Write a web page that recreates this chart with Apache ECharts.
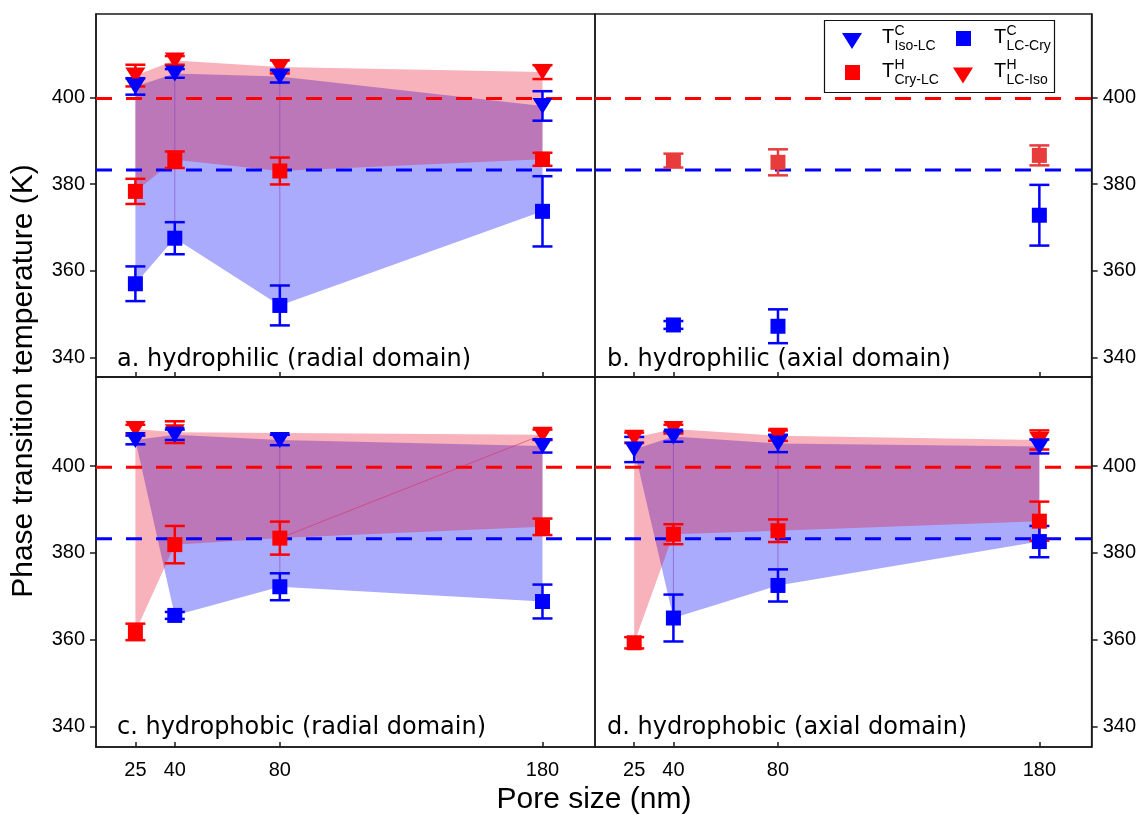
<!DOCTYPE html>
<html><head><meta charset="utf-8">
<script src="https://cdn.jsdelivr.net/npm/echarts@6/dist/echarts.min.js"></script>
<style>html,body{margin:0;padding:0;background:#fff}#c{width:1139px;height:815px}</style>
</head><body><div id="c"></div>
<script>
// ---------- data ----------
const poreSizes = [25, 40, 80, 180];
const xTickValues = [25, 40, 80, 180];
const yTickValues = [340, 360, 380, 400];
const bulkLCIso = 399.7;   // red dashed
const bulkIsoLCc = 383.25; // blue dashed

// a. hydrophilic (radial domain)
const a_isoLC = [402.5, 405.5, 404.8, 398.0];
const a_isoLCErr = [1.9, 1.0, 1.4, 3.4];
const a_lcCry = [357.0, 367.5, 352.0, 373.7];
const a_lcCryErr = [4.0, 3.7, 4.6, 8.1];
const a_cryLC = [378.3, 385.6, 383.0, 385.7];
const a_cryLCErr = [2.9, 1.9, 3.1, 1.5];
const a_lcIso = [405.0, 408.5, 407.0, 405.8];
const a_lcIsoErr = [2.5, 1.0, 1.5, 1.6];

// b. hydrophilic (axial domain)
const b_isoLC = [null, null, null, null];
const b_isoLCErr = [null, null, null, null];
const b_lcCry = [null, 347.5, 347.2, 372.8];
const b_lcCryErr = [null, 0.9, 3.9, 7.0];
const b_cryLC = [null, 385.4, 385.0, 386.6];
const b_cryLCErr = [null, 1.6, 3.0, 2.3];
const b_lcIso = [null, null, null, null];
const b_lcIsoErr = [null, null, null, null];

// c. hydrophobic (radial domain)
const c_isoLC = [406.0, 407.2, 406.0, 404.6];
const c_isoLCErr = [1.0, 1.2, 1.2, 1.5];
const c_lcCry = [null, 365.6, 372.2, 368.8];
const c_lcCryErr = [null, 0.8, 3.1, 3.9];
const c_cryLC = [361.8, 381.9, 383.4, 386.0];
const c_cryLCErr = [1.9, 4.3, 3.8, 1.9];
const c_lcIso = [408.5, 407.8, null, 407.2];
const c_lcIsoErr = [1.0, 2.5, null, 1.2];

// d. hydrophobic (axial domain)
const d_isoLC = [403.8, 406.8, 405.2, 404.5];
const d_isoLCErr = [2.9, 1.2, 2.0, 1.6];
const d_lcCry = [null, 365.0, 372.5, 382.6];
const d_lcCryErr = [null, 5.4, 3.7, 3.6];
const d_cryLC = [359.3, 384.3, 385.1, 387.3];
const d_cryLCErr = [1.3, 2.3, 2.6, 4.5];
const d_lcIso = [406.5, 408.5, 407.0, 406.0];
const d_lcIsoErr = [1.2, 1.0, 1.2, 2.2];

const panelLabels = ['a. hydrophilic (radial domain)', 'b. hydrophilic (axial domain)',
                     'c. hydrophobic (radial domain)', 'd. hydrophobic (axial domain)'];

// ---------- build ----------
const BLUE = '#0000ff', RED = '#ff0000';
const panels = [
  {isoLC:a_isoLC, isoLCErr:a_isoLCErr, lcCry:a_lcCry, lcCryErr:a_lcCryErr, cryLC:a_cryLC, cryLCErr:a_cryLCErr, lcIso:a_lcIso, lcIsoErr:a_lcIsoErr, seams:[1,2], redSeam:false, red:RED},
  {isoLC:b_isoLC, isoLCErr:b_isoLCErr, lcCry:b_lcCry, lcCryErr:b_lcCryErr, cryLC:b_cryLC, cryLCErr:b_cryLCErr, lcIso:b_lcIso, lcIsoErr:b_lcIsoErr, seams:[], redSeam:false, red:'#e83c3c'},
  {isoLC:c_isoLC, isoLCErr:c_isoLCErr, lcCry:c_lcCry, lcCryErr:c_lcCryErr, cryLC:c_cryLC, cryLCErr:c_cryLCErr, lcIso:c_lcIso, lcIsoErr:c_lcIsoErr, seams:[2], redSeam:true, red:RED},
  {isoLC:d_isoLC, isoLCErr:d_isoLCErr, lcCry:d_lcCry, lcCryErr:d_lcCryErr, cryLC:d_cryLC, cryLCErr:d_cryLCErr, lcIso:d_lcIso, lcIsoErr:d_lcIsoErr, seams:[1,2], redSeam:false, red:RED}
];

function pts(ys) { return poreSizes.map((x, i) => ys[i] == null ? null : [x, ys[i]]).filter(Boolean); }
function errPts(ys, es) { return poreSizes.map((x, i) => ys[i] == null ? null : [x, ys[i], es[i]]).filter(Boolean); }

function polySeries(i, points, fill) {
  return {
    type: 'custom', xAxisIndex: i, yAxisIndex: i, silent: true, z: 1,
    data: points,
    renderItem: (params, api) => {
      if (params.dataIndex !== 0) return null;
      return { type: 'polygon', shape: { points: points.map(p => api.coord(p)) }, style: { fill: fill } };
    }
  };
}
function segSeries(i, segs, color) {
  return {
    type: 'custom', xAxisIndex: i, yAxisIndex: i, silent: true, z: 1,
    data: segs.map(s => [s[0], s[1], s[2], s[3]]),
    renderItem: (params, api) => {
      const p1 = api.coord([api.value(0), api.value(1)]);
      const p2 = api.coord([api.value(2), api.value(3)]);
      return { type: 'line', shape: { x1: p1[0], y1: p1[1], x2: p2[0], y2: p2[1] }, style: { stroke: color, lineWidth: 1 } };
    }
  };
}
function hlineSeries(i, value, color) {
  return {
    type: 'custom', xAxisIndex: i, yAxisIndex: i, silent: true, z: 2,
    data: [[value]],
    renderItem: (params, api) => {
      const v = api.value(0);
      const p1 = api.coord([10, v]);
      const p2 = api.coord([200, v]);
      return { type: 'line', shape: { x1: p1[0], y1: p1[1], x2: p2[0], y2: p2[1] },
               style: { stroke: color, lineWidth: 3, lineDash: [16, 14] } };
    }
  };
}
function errSeries(i, data, color) {
  return {
    type: 'custom', xAxisIndex: i, yAxisIndex: i, silent: true, z: 3,
    data: data,
    renderItem: (params, api) => {
      const x = api.value(0), y = api.value(1), e = api.value(2);
      const t = api.coord([x, y + e]), b = api.coord([x, y - e]);
      const st = { stroke: color, lineWidth: 2.5 };
      const h = 10;
      return { type: 'group', children: [
        { type: 'line', shape: { x1: t[0], y1: t[1], x2: b[0], y2: b[1] }, style: st },
        { type: 'line', shape: { x1: t[0] - h, y1: t[1], x2: t[0] + h, y2: t[1] }, style: st },
        { type: 'line', shape: { x1: b[0] - h, y1: b[1], x2: b[0] + h, y2: b[1] }, style: st }
      ]};
    }
  };
}
function markerSeries(i, data, color, shape) {
  const tri = shape === 'tri';
  return {
    type: 'scatter', xAxisIndex: i, yAxisIndex: i, silent: true, z: 3,
    data: data,
    symbol: tri ? 'triangle' : 'rect',
    symbolRotate: tri ? 180 : 0,
    symbolSize: tri ? [20, 16] : [15, 15],
    itemStyle: { color: color, opacity: 1 }
  };
}

const series = [];
panels.forEach((p, i) => {
  const hasTri = pts(p.isoLC).length > 0;
  if (hasTri) {
    series.push(polySeries(i, pts(p.isoLC).concat(pts(p.lcCry).reverse()), 'rgba(0,0,250,0.33)'));
    series.push(polySeries(i, pts(p.lcIso).concat(pts(p.cryLC).reverse()), 'rgba(230,0,30,0.30)'));
  }
  const segs = p.seams.map(k => [poreSizes[k], p.isoLC[k], poreSizes[k], p.lcCry[k]]);
  if (segs.length) series.push(segSeries(i, segs, 'rgba(130,60,190,0.55)'));
  if (p.redSeam) series.push(segSeries(i, [[poreSizes[2], p.cryLC[2], poreSizes[3], p.lcIso[3]]], 'rgba(220,40,90,0.55)'));
  series.push(hlineSeries(i, bulkLCIso, '#ff0000'));
  series.push(hlineSeries(i, bulkIsoLCc, '#0000ff'));
  // red (heating)
  series.push(errSeries(i, errPts(p.cryLC, p.cryLCErr), p.red));
  series.push(errSeries(i, errPts(p.lcIso, p.lcIsoErr), p.red));
  series.push(markerSeries(i, pts(p.cryLC), p.red, 'sq'));
  series.push(markerSeries(i, pts(p.lcIso), p.red, 'tri'));
  // blue (cooling)
  series.push(errSeries(i, errPts(p.isoLC, p.isoLCErr), BLUE));
  series.push(errSeries(i, errPts(p.lcCry, p.lcCryErr), BLUE));
  series.push(markerSeries(i, pts(p.isoLC), BLUE, 'tri'));
  series.push(markerSeries(i, pts(p.lcCry), BLUE, 'sq'));
});

const FONT = '"Liberation Sans", Arial, sans-serif';
const grids = [
  { left: 96, top: 14, width: 499, height: 363 },
  { left: 595, top: 14, width: 497, height: 363 },
  { left: 96, top: 377, width: 499, height: 370 },
  { left: 595, top: 377, width: 497, height: 370 }
].map(g => Object.assign(g, { show: true, borderColor: '#1a1a1a', borderWidth: 1.5, backgroundColor: 'transparent' }));

const xAxes = [0, 1, 2, 3].map(i => ({
  type: 'value', gridIndex: i, min: 10, max: 200,
  splitLine: { show: false },
  axisLine: { show: true, lineStyle: { color: '#1a1a1a', width: 1.5 } },
  axisTick: { show: true, inside: true, length: 5, customValues: xTickValues, lineStyle: { color: '#1a1a1a', width: 1.5 } },
  axisLabel: { show: i >= 2, customValues: xTickValues, margin: 13, fontSize: 20, fontFamily: FONT, color: '#000' }
}));
const yRanges = [[335.5, 419.2], [335.5, 419.2], [335.3, 420.5], [335.3, 420.5]];
const yAxes = [0, 1, 2, 3].map(i => ({
  type: 'value', gridIndex: i, min: yRanges[i][0], max: yRanges[i][1],
  position: i % 2 === 0 ? 'left' : 'right',
  splitLine: { show: false },
  axisLine: { show: true, lineStyle: { color: '#1a1a1a', width: 1.5 } },
  axisTick: { show: true, inside: false, length: 6, customValues: yTickValues, lineStyle: { color: '#1a1a1a', width: 1.5 } },
  axisLabel: { show: true, customValues: yTickValues, margin: 11, fontSize: 20, fontFamily: FONT, color: '#000' }
}));

const labelPos = [[117, 360], [607, 360], [117, 728], [607, 728]];
const graphic = [];
panelLabels.forEach((t, i) => graphic.push({
  type: 'text', x: labelPos[i][0], y: labelPos[i][1], silent: true,
  style: { text: t, font: '24px "DejaVu Sans", Verdana, sans-serif', fill: '#000', textVerticalAlign: 'middle' }
}));
graphic.push({ type: 'text', x: 594, y: 800, silent: true,
  style: { text: 'Pore size (nm)', font: '30px ' + FONT, fill: '#000', textAlign: 'center', textVerticalAlign: 'middle' } });
graphic.push({ type: 'text', x: 24, y: 381, rotation: Math.PI / 2, silent: true,
  style: { text: 'Phase transition temperature (K)', font: '30px ' + FONT, fill: '#000', textAlign: 'center', textVerticalAlign: 'middle' } });

// legend
graphic.push({ type: 'rect', shape: { x: 824.5, y: 20.5, width: 230, height: 72 }, style: { fill: '#fff', stroke: '#111', lineWidth: 1.2 }, z: 100 });
graphic.push({ type: 'polygon', shape: { points: [[842, 33], [862, 33], [852, 49]] }, style: { fill: BLUE }, z: 101 });
graphic.push({ type: 'rect', shape: { x: 956, y: 31, width: 15, height: 15 }, style: { fill: BLUE }, z: 101 });
graphic.push({ type: 'rect', shape: { x: 845, y: 65, width: 15, height: 15 }, style: { fill: RED }, z: 101 });
graphic.push({ type: 'polygon', shape: { points: [[953, 67.5], [973, 67.5], [963, 83.5]] }, style: { fill: RED }, z: 101 });
const legendTexts = [
  { x: 882, y: 37.5, sup: 'C', sub: 'Iso-LC' },
  { x: 994, y: 37.5, sup: 'C', sub: 'LC-Cry' },
  { x: 882, y: 71.5, sup: 'H', sub: 'Cry-LC' },
  { x: 994, y: 71.5, sup: 'H', sub: 'LC-Iso' }
];
legendTexts.forEach(l => {
  graphic.push({ type: 'text', x: l.x, y: l.y, z: 102, style: { text: 'T', font: '20px ' + FONT, fill: '#000', textVerticalAlign: 'middle' } });
  graphic.push({ type: 'text', x: l.x + 12.5, y: l.y - 6, z: 102, style: { text: l.sup, font: '14px ' + FONT, fill: '#000', textVerticalAlign: 'middle' } });
  graphic.push({ type: 'text', x: l.x + 12.5, y: l.y + 8.5, z: 102, style: { text: l.sub, font: '14px ' + FONT, fill: '#000', textVerticalAlign: 'middle' } });
});

const chart = echarts.init(document.getElementById('c'), null, { renderer: 'canvas' });
chart.setOption({
  animation: false,
  backgroundColor: '#fff',
  grid: grids, xAxis: xAxes, yAxis: yAxes,
  series: series,
  graphic: graphic
});
</script>
</body></html>
